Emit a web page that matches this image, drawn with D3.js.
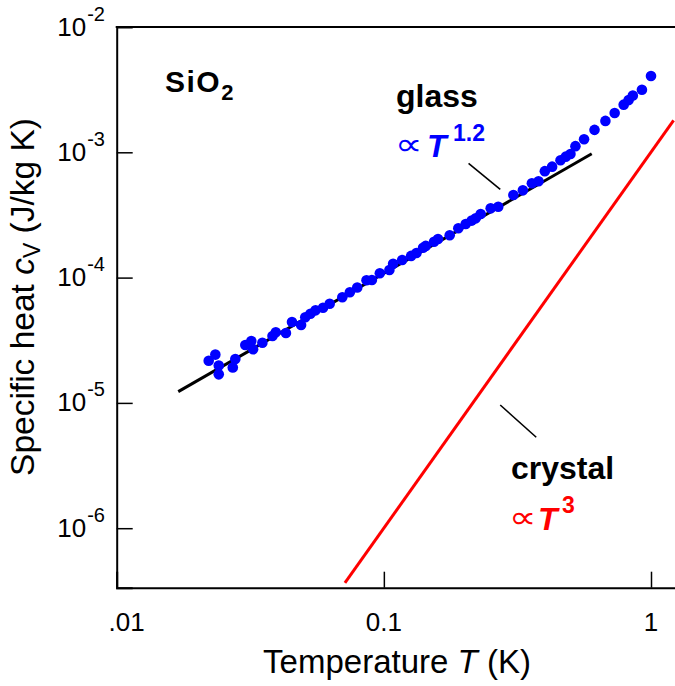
<!DOCTYPE html>
<html><head><meta charset="utf-8">
<script src="https://cdn.jsdelivr.net/npm/d3@7"></script>
<style>
html,body{margin:0;padding:0;background:#fff;}
svg{display:block;font-family:"Liberation Sans",Arial,Helvetica,sans-serif;}
</style></head>
<body><svg id="c" width="675" height="686"></svg>
<script>
// ---- data ----
const tempK = [0.0221,0.0234,0.0241,0.0241,0.0272,0.0278,0.0303,0.0319,0.0324,0.0351,0.0383,0.0394,0.0430,0.0453,0.0490,0.0508,0.0531,0.0555,0.0592,0.0627,0.0699,0.0746,0.0795,0.0861,0.0902,0.0966,0.1049,0.1083,0.1171,0.1265,0.1324,0.1402,0.1435,0.1541,0.1595,0.1764,0.1900,0.2025,0.2132,0.2207,0.2304,0.2511,0.2680,0.3054,0.3314,0.3581,0.3793,0.4005,0.4264,0.4584,0.4797,0.4995,0.5214,0.5616,0.6146,0.6751,0.7311,0.7901,0.8247,0.8551,0.9247,1.00];
const cvGlass = [2.17e-5,2.43e-5,1.99e-5,1.69e-5,1.92e-5,2.24e-5,2.90e-5,3.12e-5,2.68e-5,3.02e-5,3.42e-5,3.66e-5,3.61e-5,4.42e-5,4.18e-5,4.82e-5,5.15e-5,5.48e-5,5.75e-5,6.19e-5,6.96e-5,7.63e-5,8.34e-5,9.52e-5,9.57e-5,1.082e-4,1.15e-4,1.29e-4,1.38e-4,1.49e-4,1.57e-4,1.73e-4,1.79e-4,1.93e-4,2.03e-4,2.18e-4,2.48e-4,2.68e-4,2.85e-4,2.97e-4,3.22e-4,3.57e-4,3.68e-4,4.56e-4,4.97e-4,5.66e-4,5.88e-4,7.07e-4,7.68e-4,8.63e-4,9.23e-4,9.69e-4,1.12e-3,1.27e-3,1.51e-3,1.78e-3,2.06e-3,2.40e-3,2.61e-3,2.84e-3,3.16e-3,4.06e-3];
// glass fit line (∝ T^1.2) endpoints
const glassFitT = [0.017, 0.60];
const glassFitCv = [1.23e-5, 9.75e-4];
// crystal line (∝ T^3) endpoints
const crystalT = [0.0715, 1.215];
const crystalCv = [3.66e-7, 1.80e-3];
// axes
const xTicks = [0.01, 0.1, 1];
const xTickLabels = [".01", "0.1", "1"];
const yTicks = [1e-2, 1e-3, 1e-4, 1e-5, 1e-6];
const yTickExp = ["-2", "-3", "-4", "-5", "-6"];
// pointer lines (data coords)
const glassPointer = [[0.2075, 8.17e-4], [0.2727, 5.07e-4]];
const crystalPointer = [[0.2727, 9.62e-6], [0.3719, 5.32e-6]];

// ---- layout ----
const L = 116.7, T0 = 27, B = 587.7, R = 700;
const dec = 267.15;
const x = d3.scaleLog().domain([0.01, Math.pow(10, -2 + (R - L) / dec)]).range([L, R]);
const y = d3.scaleLog().domain([Math.pow(10, -2 - (B - T0) / 125.3), 1e-2]).range([B, T0]);

const svg = d3.select("#c");
svg.append("defs").append("clipPath").attr("id", "clip")
  .append("rect").attr("x", L).attr("y", T0).attr("width", R - L).attr("height", B - T0);

const line = d3.line().x(d => x(d[0])).y(d => y(d[1]));
const plot = svg.append("g").attr("clip-path", "url(#clip)");
plot.append("path").datum(glassFitT.map((t, i) => [t, glassFitCv[i]]))
  .attr("d", line).attr("fill", "none").attr("stroke", "#000").attr("stroke-width", 3);
plot.append("path").datum(crystalT.map((t, i) => [t, crystalCv[i]]))
  .attr("d", line).attr("fill", "none").attr("stroke", "#ff0000").attr("stroke-width", 3);
plot.selectAll("circle").data(tempK.map((t, i) => [t, cvGlass[i]])).join("circle")
  .attr("cx", d => x(d[0])).attr("cy", d => y(d[1])).attr("r", 5.3).attr("fill", "#0000ff");

// pointers
[glassPointer, crystalPointer].forEach(p => {
  svg.append("path").datum(p).attr("d", line).attr("stroke", "#000").attr("stroke-width", 1.6).attr("fill", "none");
});

// axes
const xAxis = d3.axisBottom(x).tickValues(xTicks).tickSize(-16).tickFormat("");
const gx = svg.append("g").attr("transform", `translate(0,${B})`).call(xAxis);
gx.select(".domain").attr("stroke-width", 2);
gx.selectAll(".tick line").attr("stroke-width", 1.5);
const yAxis = d3.axisLeft(y).tickValues(yTicks.slice(1)).tickSize(-16).tickFormat("");
const gy = svg.append("g").attr("transform", `translate(${L},0)`).call(yAxis);
gy.select(".domain").attr("stroke-width", 2);
gy.selectAll(".tick line").attr("stroke-width", 1.5);
svg.append("line").attr("x1", L - 1).attr("x2", R).attr("y1", T0).attr("y2", T0)
  .attr("stroke", "#000").attr("stroke-width", 2);

// x tick labels
svg.selectAll(".xl").data(xTicks).join("text").attr("class", "xl")
  .attr("x", (d, i) => x(d) + (i === 0 ? 10 : 0)).attr("y", B + 43)
  .attr("text-anchor", "middle").attr("font-size", 26).text((d, i) => xTickLabels[i]);
// y tick labels
yTicks.forEach((v, i) => {
  const t = svg.append("text").attr("x", 105).attr("y", y(v) + 8.5)
    .attr("text-anchor", "end").attr("font-size", 26);
  t.append("tspan").text("10");
  t.append("tspan").attr("dy", -15).attr("dx", 1).attr("font-size", 20).text(yTickExp[i]);
});

// axis titles
const xt = svg.append("text").attr("x", 397).attr("y", 673).attr("text-anchor", "middle").attr("font-size", 33);
xt.append("tspan").text("Temperature ");
xt.append("tspan").attr("font-style", "italic").text("T");
xt.append("tspan").text(" (K)");
const yt = svg.append("text").attr("transform", "translate(34,297) rotate(-90)").attr("text-anchor", "middle").attr("font-size", 33.5);
yt.append("tspan").text("Specific heat ");
yt.append("tspan").attr("font-style", "italic").text("c");
yt.append("tspan").attr("font-size", 23).attr("dy", 6).text("V");
yt.append("tspan").attr("dy", -6).text(" (J/kg K)");

// annotations
const s = svg.append("text").attr("x", 165).attr("y", 92).attr("font-size", 30).attr("font-weight", "bold").attr("letter-spacing", 1.5);
s.append("tspan").text("SiO");
s.append("tspan").attr("font-size", 22).attr("dy", 8).text("2");

function propTo(px, py, tx, sx, sy, exp, color) {
  svg.append("text").attr("transform", `translate(${px},${py}) scale(1.28,1.05)`)
    .attr("font-family", "DejaVu Sans").attr("font-size", 30).attr("fill", color).text("∝");
  svg.append("text").attr("x", tx).attr("y", py + 2).attr("font-size", 32).attr("font-weight", "bold")
    .attr("font-style", "italic").attr("fill", color).text("T");
  svg.append("text").attr("x", sx).attr("y", sy).attr("font-size", 23).attr("font-weight", "bold")
    .attr("fill", color).text(exp);
}

svg.append("text").attr("x", 396).attr("y", 107).attr("font-size", 32).attr("font-weight", "bold").text("glass");
propTo(395, 155, 427, 453, 141, "1.2", "#0000ff");

svg.append("text").attr("x", 511).attr("y", 479).attr("font-size", 32).attr("font-weight", "bold").text("crystal");
propTo(509, 528, 538, 562, 513, "3", "#ff0000");
</script></body></html>
